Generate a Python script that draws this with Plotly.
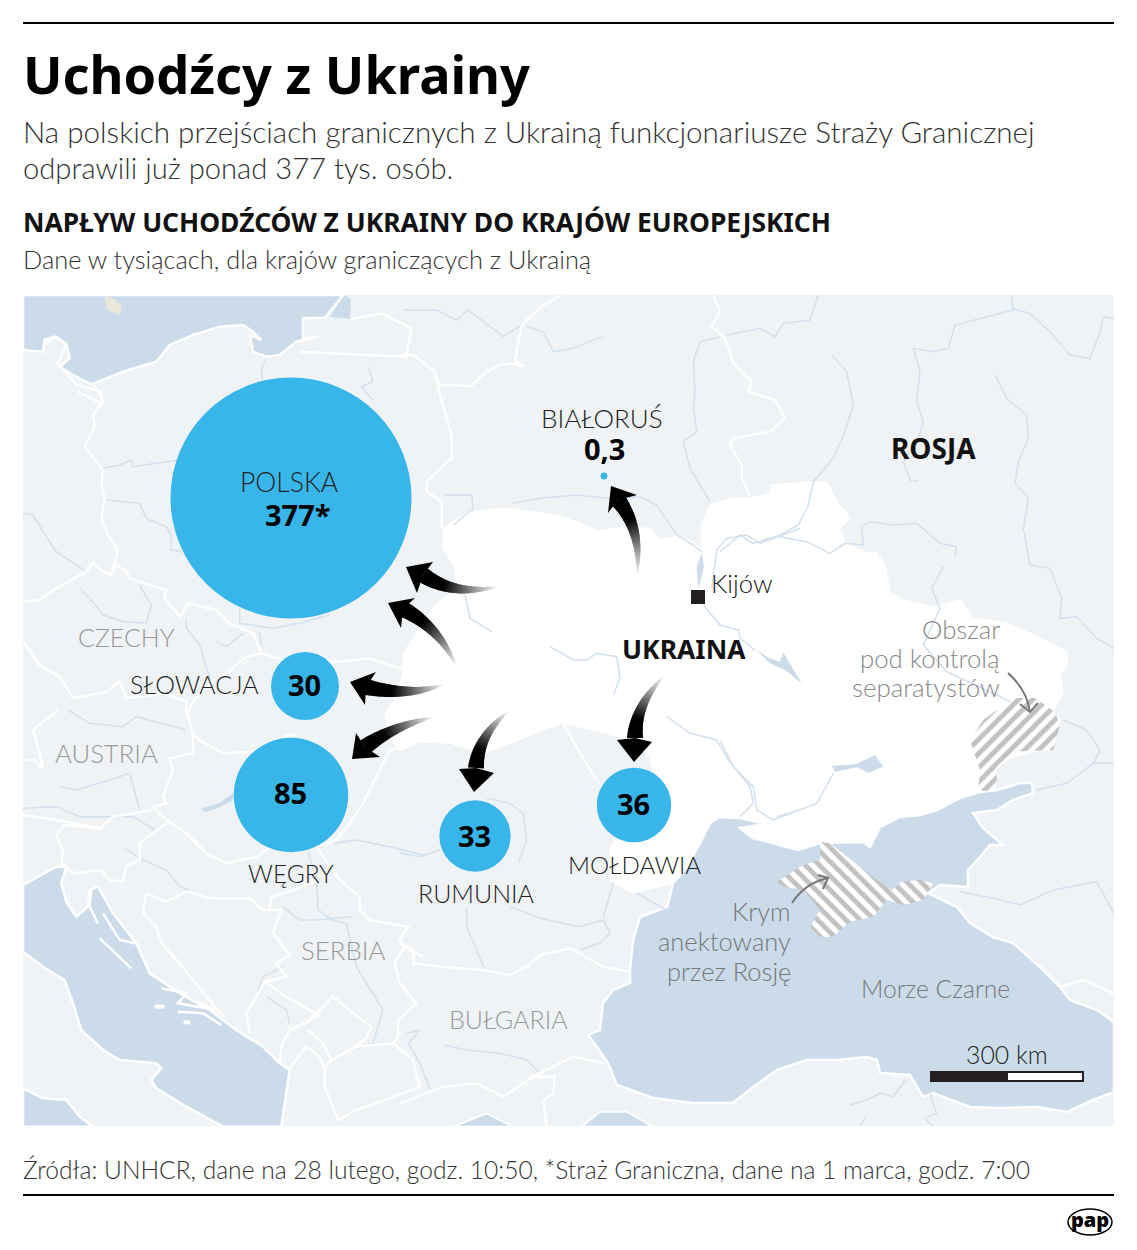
import plotly.graph_objects as go

W, H = 1137, 1250
MAP_L, MAP_T, MAP_R, MAP_B = 23, 295, 1114, 1126

LIGHT = "Lato"
BOLD = "Noto Sans"
LAND = "#eff3f5"
SEA = "#cbdbea"
RIVER = "#d3e0ed"
BLUE = "#38b6ea"

# values, in thousands
countries = ["POLSKA", "SŁOWACJA", "WĘGRY", "RUMUNIA", "MOŁDAWIA", "BIAŁORUŚ"]
refugees = [377, 30, 85, 33, 36, 0.3]
value_labels = ["377*", "30", "85", "33", "36", "0,3"]
bubble_x = [291, 305, 291, 475, 634, 604]
bubble_y = [498, 686, 795, 836, 805, 476]


def z(ox, oy, pts):
    return [(x / 3 + ox, y / 3 + oy) for x, y in pts]


baltic = z(23, 295, [(0, 165), (60, 170), (65, 135), (95, 125), (130, 145), (140, 190), (110, 215), (150, 240),
                     (205, 268), (300, 230), (400, 200), (440, 150), (510, 120), (590, 95), (660, 90), (690, 110),
                     (715, 135), (680, 120), (690, 170), (730, 185), (770, 180), (820, 140), (885, 125), (840, 130),
                     (840, 70), (905, 68), (945, 20), (960, 0), (0, 0)])
lagoon = z(23, 295, [(920, 65), (980, 72), (985, 15), (965, 0), (950, 20)])
adriatic = z(23, 710, [(0, 525), (100, 470), (130, 470), (115, 520), (130, 575), (160, 620), (195, 590), (200, 540),
                       (225, 530), (270, 610), (340, 700), (380, 790), (470, 850), (560, 900), (640, 960), (720, 1010),
                       (770, 1060), (800, 1080), (790, 1150), (775, 1250), (600, 1250), (490, 1190), (400, 1135),
                       (385, 1110), (415, 1075), (400, 1060), (290, 1050), (240, 1020), (175, 960), (150, 880),
                       (125, 810), (60, 770), (0, 725)])
tyrrhenian = z(23, 710, [(0, 1135), (60, 1165), (130, 1170), (170, 1220), (210, 1250), (0, 1250)])
marmara_a = z(400, 710, [(160, 1250), (260, 1210), (340, 1250)])
marmara_b = z(400, 710, [(545, 1250), (600, 1205), (680, 1205), (760, 1250)])
black_sea = [(720, 817), (740, 818), (757, 822), (773, 823), (740, 828), (753, 838), (780, 845), (798, 850), (820, 843),
             (863, 842), (870, 847), (880, 827), (900, 817), (920, 815), (937, 810), (960, 798), (980, 792), (997, 790),
             (1020, 783), (1032, 783), (1033, 793), (1013, 800), (997, 810), (973, 813), (983, 828), (1003, 845),
             (990, 845), (980, 857), (968, 870), (968, 887), (940, 885), (928, 893), (957, 907), (970, 923), (993, 937),
             (1013, 943), (1040, 967), (1060, 987), (1070, 1000), (1097, 1010), (1114, 1022), (1114, 1092), (1093, 1100),
             (1067, 1112), (1037, 1107), (1000, 1108), (970, 1107), (933, 1093), (923, 1097), (910, 1075), (880, 1073),
             (877, 1060), (867, 1057), (837, 1060), (807, 1060), (777, 1070), (753, 1087), (733, 1103), (693, 1103),
             (653, 1098), (617, 1085), (608, 1063), (597, 1047), (588, 1035), (600, 1030), (603, 1003), (613, 990),
             (630, 983), (630, 970), (633, 940), (640, 917), (667, 907), (673, 883), (687, 867), (700, 843), (710, 823)]
ukraine = (z(400, 295, [(130, 700), (200, 655), (300, 640), (400, 650), (480, 665), (530, 680), (590, 710), (640, 700),
                        (700, 700), (750, 700), (780, 735), (830, 725), (880, 740), (905, 765), (905, 690), (930, 630),
                        (1000, 610), (1050, 610), (1100, 600), (1120, 570)])
           + [(770, 485), (800, 483), (827, 482), (837, 502), (850, 518), (840, 528), (845, 543), (863, 552), (877, 553),
              (885, 565), (890, 592), (903, 600), (933, 607), (960, 600), (973, 618), (1007, 623), (1040, 638),
              (1067, 652), (1067, 665), (1060, 675), (1063, 692), (1053, 712), (1060, 720), (1053, 747), (1013, 757),
              (997, 767), (993, 790), (980, 792), (960, 798), (937, 810), (920, 815), (900, 817), (880, 827), (870, 847),
              (863, 842), (820, 842), (798, 850), (780, 845), (753, 838), (740, 828), (773, 823), (757, 822), (740, 818),
              (720, 817), (710, 823), (700, 843), (687, 867), (673, 883), (633, 893), (610, 880), (610, 853), (613, 842),
              (667, 820), (650, 757), (633, 743), (607, 733), (563, 723), (543, 730), (500, 747), (483, 753), (450, 743),
              (420, 742), (400, 750), (388, 735), (385, 715), (395, 700), (403, 675), (403, 655), (413, 638), (433, 608),
              (457, 588), (455, 568), (443, 548)])
crimea = z(720, 710, [(300, 395), (330, 400), (420, 470), (470, 510), (515, 540), (545, 515), (600, 510), (640, 520),
                      (610, 570), (550, 585), (500, 570), (460, 620), (390, 635), (340, 680), (300, 680), (270, 650),
                      (300, 600), (250, 540), (190, 530), (170, 515), (250, 465), (300, 450)])
donbas = [(1000, 712), (1015, 698), (1035, 698), (1055, 712)] + z(720, 710, [(1020, 45), (1000, 120), (880, 125), (830, 170),
                                                                             (830, 210), (820, 245), (775, 240), (780, 180),
                                                                             (750, 90), (790, 30), (830, 0)])
lakes = [
    z(720, 295, [(110, 1065), (145, 1088), (180, 1100), (190, 1072), (205, 1098), (245, 1165), (195, 1125), (150, 1105)]),
    z(720, 710, [(335, 168), (410, 162), (465, 135), (490, 170), (445, 188), (410, 172), (345, 185)]),
    z(400, 295, [(905, 775), (912, 815), (895, 880), (890, 815)]),
    z(23, 710, [(535, 298), (590, 280), (632, 250), (630, 268), (590, 290), (545, 305)]),
]
islet = z(23, 295, [(245, 5), (262, 5), (297, 30), (290, 60), (250, 45)])

border_lines = [
    z(23, 295, [(215, 270), (240, 320), (210, 360), (215, 395), (185, 455), (240, 525), (235, 570), (245, 610),
                (235, 670), (255, 720), (285, 765), (265, 840)]),
    z(23, 295, [(0, 920), (50, 915), (100, 880), (190, 830), (210, 805), (240, 830), (265, 840), (280, 810), (310, 830),
                (320, 850), (430, 885), (425, 910), (470, 965), (495, 925), (580, 945), (620, 985), (690, 1015),
                (715, 1075), (800, 1100), (950, 1100), (1040, 1090), (1145, 1125)]),
    z(23, 295, [(715, 1075), (660, 1090), (620, 1130), (560, 1165), (510, 1220), (490, 1260)]),
    z(23, 295, [(0, 1040), (50, 1110), (110, 1145), (150, 1210), (250, 1190), (290, 1160), (310, 1210), (420, 1195),
                (490, 1220), (490, 1260)]),
    z(23, 295, [(830, 170), (1150, 185), (1165, 100), (1075, 55), (985, 72)]),
    z(400, 295, [(0, 180), (40, 180), (105, 230), (115, 270), (165, 270), (210, 275), (260, 230), (300, 210), (335, 205),
                 (370, 215), (345, 195), (365, 90), (430, 30), (485, 0)]),
    z(400, 295, [(105, 230), (120, 300), (155, 420), (155, 490), (80, 560), (80, 590), (125, 620), (125, 700)]),
    z(400, 295, [(940, 0), (960, 50), (935, 95), (975, 130), (1000, 205), (1055, 260), (1045, 290), (1125, 315),
                 (1155, 370), (1110, 410), (1000, 430), (990, 450), (1025, 510), (1025, 550), (1050, 600)]),
    z(23, 710, [(490, 0), (510, 70), (530, 90), (600, 130), (690, 125), (790, 75), (820, 75)]),
    z(23, 710, [(1200, 90), (1100, 120), (1070, 180), (1020, 280), (980, 340), (940, 390), (880, 410), (950, 510),
                (1010, 560), (1010, 600), (1040, 630), (1100, 640), (1155, 650), (1130, 690), (1145, 710), (1200, 740)]),
    z(23, 710, [(850, 415), (760, 400), (700, 440), (610, 460), (550, 430), (490, 370), (430, 330), (390, 290), (430, 280),
                (420, 260), (450, 180), (440, 145), (510, 130), (510, 70)]),
    z(23, 710, [(0, 315), (100, 330), (230, 355), (270, 320), (390, 300)]),
    z(23, 710, [(100, 375), (125, 345), (235, 355)]),
    z(23, 710, [(100, 375), (120, 420), (115, 460), (130, 470), (150, 490), (235, 480), (260, 510), (300, 515), (310, 470),
                (350, 450), (350, 400), (430, 340)]),
    z(23, 710, [(105, 0), (30, 60), (50, 130), (60, 175), (35, 150), (0, 150)]),
    z(23, 710, [(370, 550), (360, 610), (400, 650), (415, 700), (470, 760), (550, 860), (600, 920)]),
    z(23, 710, [(370, 550), (430, 575), (490, 545), (560, 565), (680, 565), (720, 600), (775, 600), (750, 670), (800, 735),
                (760, 760), (790, 800), (725, 815), (700, 860), (670, 910), (680, 970)]),
    z(23, 710, [(740, 600), (745, 560), (800, 545), (880, 510)]),
    z(23, 710, [(725, 815), (790, 860), (885, 915), (855, 935), (800, 960), (775, 1010), (770, 1060)]),
    z(23, 710, [(855, 935), (930, 860), (990, 910), (1045, 950), (1030, 985), (980, 1020), (925, 1050), (900, 1000),
                (855, 960)]),
    z(23, 710, [(925, 1050), (1000, 1010), (1110, 1000), (1170, 1050), (1190, 1130), (1100, 1165), (1000, 1200), (945, 1230),
                (905, 1130), (905, 1075), (925, 1050)]),
    z(23, 710, [(800, 1075), (850, 1010), (890, 1040), (905, 1075)]),
    z(23, 710, [(1145, 710), (1115, 760), (1130, 820), (1180, 880), (1125, 930), (1125, 980), (1110, 1000)]),
    z(400, 710, [(0, 700), (40, 720), (40, 760), (120, 770), (250, 780), (330, 795), (380, 770), (420, 735), (510, 715),
                 (610, 770), (690, 785)]),
    z(400, 710, [(0, 1180), (130, 1130), (230, 1120), (310, 1160), (400, 1100), (520, 1040), (615, 1060)]),
    z(400, 710, [(400, 1100), (465, 1100), (460, 1150), (430, 1170), (440, 1250)]),
    z(400, 710, [(490, 40), (540, 130), (590, 210)]),
    z(720, 710, [(1020, 830), (1090, 810), (1182, 850)]),
    z(23, 710, [(205, 540), (200, 590), (225, 640)]),
    z(23, 710, [(240, 610), (290, 690), (335, 700)]),
    z(23, 710, [(230, 685), (290, 740), (325, 775)]),
    z(23, 710, [(415, 835), (490, 850), (465, 880), (580, 900), (520, 875)]),
    z(23, 710, [(465, 905), (540, 910), (595, 945)]),
    z(23, 295, [(60, 150), (100, 125), (130, 150), (105, 205), (160, 270), (235, 290), (235, 325), (165, 290)]),
]
island_spots = [z(23, 710, [(395, 890), (425, 890)]), z(23, 710, [(482, 937), (502, 937)])]

river_lines = [
    z(23, 295, [(240, 520), (290, 510), (325, 495), (330, 515), (400, 505), (470, 495)]),
    z(23, 295, [(250, 615), (350, 625), (370, 670), (430, 695), (445, 720), (445, 765), (480, 770)]),
    z(23, 295, [(0, 655), (30, 660), (60, 710), (100, 770), (190, 830)]),
    z(23, 295, [(170, 880), (200, 910), (240, 960), (300, 980), (370, 985), (385, 930), (350, 870)]),
    z(23, 295, [(490, 970), (490, 1000), (530, 1050), (560, 1150)]),
    z(23, 295, [(650, 940), (650, 985), (750, 1000), (830, 985), (920, 960)]),
    z(23, 295, [(580, 1040), (610, 1055), (660, 1015)]),
    z(23, 295, [(710, 1010), (715, 1050)]),
    z(23, 295, [(730, 190), (715, 225), (718, 255)]),
    z(23, 295, [(1035, 215), (1050, 260), (1015, 275), (1050, 315)]),
    z(400, 295, [(15, 45), (110, 45), (170, 75), (205, 45), (310, 125), (365, 90)]),
    z(400, 295, [(380, 95), (430, 110), (460, 170), (520, 160), (605, 125)]),
    z(400, 295, [(340, 625), (420, 610), (530, 600), (620, 610), (720, 605), (770, 630), (830, 720), (880, 750), (905, 770)]),
    z(400, 295, [(960, 125), (900, 140), (880, 200), (885, 290), (880, 340), (890, 410), (850, 440), (870, 520), (930, 620)]),
    z(400, 295, [(935, 880), (950, 765), (980, 730), (1040, 720), (1080, 745), (1200, 700)]),
    z(400, 295, [(910, 930), (960, 990), (1015, 1005), (1020, 1030), (1065, 1065)]),
    z(400, 295, [(195, 900), (210, 970), (275, 1010)]),
    z(400, 295, [(450, 1055), (520, 1095), (560, 1095), (590, 1075), (650, 1085), (660, 1150), (640, 1200)]),
    z(400, 295, [(135, 600), (215, 600), (220, 640), (160, 690)]),
    z(720, 295, [(20, 120), (120, 100), (165, 125), (190, 85), (270, 75), (295, 0)]),
    z(720, 295, [(335, 180), (380, 230), (400, 330), (375, 410), (340, 490), (280, 560), (265, 630), (235, 690), (180, 720),
                 (100, 745), (60, 720), (0, 770)]),
    z(720, 295, [(180, 725), (260, 740), (330, 775), (375, 745), (430, 750), (425, 695), (450, 680), (520, 690), (590, 685),
                 (660, 745), (710, 755), (705, 785)]),
    z(720, 295, [(875, 0), (880, 45), (705, 90), (685, 160), (640, 170), (580, 160), (600, 230), (590, 320), (610, 380),
                 (595, 430), (550, 500), (570, 555), (595, 558)]),
    z(720, 295, [(825, 240), (860, 310), (920, 360), (925, 430), (895, 500), (885, 565), (925, 610), (910, 700), (930, 810),
                 (990, 820), (1025, 910), (1020, 970), (1070, 965), (1130, 1030), (1182, 1060)]),
    z(720, 295, [(875, 40), (930, 55), (990, 110), (1050, 180), (1110, 190), (1140, 110), (1150, 65), (1182, 70)]),
    z(720, 295, [(670, 815), (635, 880), (660, 940), (610, 1050), (680, 1130), (830, 1200), (930, 1250)]),
    z(23, 710, [(135, 0), (200, 40), (300, 50), (340, 20), (490, 60)]),
    z(23, 710, [(110, 230), (160, 240), (260, 210), (320, 190), (350, 300)]),
    z(23, 710, [(0, 295), (100, 290), (170, 320), (330, 320), (395, 360)]),
    z(23, 710, [(305, 415), (360, 450), (430, 480), (470, 530), (500, 540)]),
    z(23, 710, [(855, 425), (880, 510), (885, 600), (930, 630), (970, 640), (1000, 770), (1080, 900), (1050, 1000), (1000, 1015)]),
    z(23, 710, [(930, 400), (1000, 390), (1100, 410), (1200, 435)]),
    z(23, 710, [(780, 590), (830, 630), (880, 630), (990, 620)]),
    z(23, 710, [(705, 840), (720, 800), (780, 770)]),
    z(23, 710, [(730, 860), (790, 900), (800, 940)]),
    z(400, 710, [(0, 430), (60, 440), (120, 420)]),
    z(400, 710, [(260, 265), (330, 280), (370, 310), (380, 390), (355, 460)]),
    z(400, 710, [(200, 590), (200, 650), (255, 780)]),
    z(400, 710, [(330, 590), (420, 625), (540, 650), (610, 630), (630, 670), (600, 700), (540, 720)]),
    z(400, 710, [(610, 620), (640, 520)]),
    z(400, 710, [(130, 1005), (200, 1020), (300, 1030), (380, 1050), (415, 1085)]),
    z(400, 710, [(20, 970), (60, 960), (25, 1000), (60, 1060), (90, 1140)]),
    z(400, 710, [(800, 20), (870, 70), (950, 90), (985, 150), (1050, 230), (1060, 280), (1020, 320)]),
    z(400, 710, [(1130, 320), (1200, 300)]),
    z(400, 710, [(710, 550), (800, 600)]),
    z(720, 710, [(0, 90), (40, 170), (100, 230), (110, 300), (160, 330), (290, 280), (340, 190)]),
    z(720, 710, [(950, 240), (1040, 220), (1120, 160), (1182, 160)]),
    z(720, 710, [(1120, 160), (1140, 120), (1100, 60), (1030, 30)]),
    z(720, 710, [(720, 545), (820, 565), (900, 585), (1000, 540), (1130, 515), (1182, 610)]),
    z(720, 710, [(390, 1185), (440, 1170), (480, 1150), (520, 1160), (555, 1110)]),
    z(720, 710, [(440, 1215), (420, 1250)]),
    z(720, 710, [(630, 1150), (650, 1210), (615, 1225), (640, 1250)]),
]

# flow arrows: tail, bend, neck, tip, two wings
flow_arrows = [
    ((500, 586), (455, 597), (423, 575), (406, 567), (433, 562), (417, 593)),
    ((457, 668), (440, 628), (403, 609), (388, 603), (415, 598), (401, 628)),
    ((445, 684), (410, 697), (366, 687), (350, 682), (376, 672), (365, 705)),
    ((435, 717), (395, 725), (365, 747), (352, 759), (356, 733), (380, 757)),
    ((510, 710), (478, 735), (476, 768), (474, 792), (459, 769), (494, 773)),
    ((665, 675), (635, 705), (635, 738), (634, 762), (617, 740), (652, 742)),
    ((637, 577), (642, 530), (618, 500), (611, 486), (637, 495), (608, 513)),
]

texts = [
    # x, y, text, size, colour, bold, anchor
    (22, 73, "Uchodźcy z Ukrainy", 52.3, "#000000", True, "left"),
    (22, 131, "Na polskich przejściach granicznych z Ukrainą funkcjonariusze Straży Granicznej", 29.6, "#333333", False, "left"),
    (22, 168, "odprawili już ponad 377 tys. osób.", 29.2, "#333333", False, "left"),
    (22, 222, "NAPŁYW UCHODŹCÓW Z UKRAINY DO KRAJÓW EUROPEJSKICH", 26.4, "#111111", True, "left"),
    (22, 259, "Dane w tysiącach, dla krajów graniczących z Ukrainą", 25.4, "#333333", False, "left"),
    (22, 1169, "Źródła: UNHCR, dane na 28 lutego, godz. 10:50, *Straż Graniczna, dane na 1 marca, godz. 7:00", 24.6, "#333333", False, "left"),
    (289, 482, "POLSKA", 26.5, "#222222", False, "center"),
    (602, 418, "BIAŁORUŚ", 26, "#222222", False, "center"),
    (260, 684, "SŁOWACJA", 25, "#222222", False, "right"),
    (291, 873, "WĘGRY", 24.5, "#222222", False, "center"),
    (476, 893, "RUMUNIA", 25, "#222222", False, "center"),
    (634, 864, "MOŁDAWIA", 24.2, "#222222", False, "center"),
    (126, 637, "CZECHY", 25, "#999999", False, "center"),
    (106, 753, "AUSTRIA", 25.7, "#999999", False, "center"),
    (343, 950, "SERBIA", 25.8, "#999999", False, "center"),
    (508, 1019, "BUŁGARIA", 25, "#999999", False, "center"),
    (933, 448, "ROSJA", 28, "#111111", True, "center"),
    (684, 649, "UKRAINA", 26.5, "#111111", True, "center"),
    (710, 583, "Kijów", 25.7, "#222222", False, "left"),
    (1001, 629, "Obszar", 25.8, "#888888", False, "right"),
    (1001, 658, "pod kontrolą", 25.8, "#888888", False, "right"),
    (1001, 687, "separatystów", 25.8, "#888888", False, "right"),
    (792, 911, "Krym", 25.5, "#777777", False, "right"),
    (792, 941, "anektowany", 25.5, "#777777", False, "right"),
    (792, 971, "przez Rosję", 25.5, "#777777", False, "right"),
    (935, 988, "Morze Czarne", 24.6, "#777777", False, "center"),
    (1007, 1054, "300 km", 24.8, "#222222", False, "center"),
]
value_text_y = [514, 684, 792, 835, 803, 449]
value_text_x = [297, 304, 290, 474, 633, 604]


def poly(pts, close=True):
    d = "M" + " L".join(f"{x:.1f},{y:.1f}" for x, y in pts)
    return d + (" Z" if close else "")


def filled(pts, color, line="#ffffff", width=0):
    return dict(type="path", path=poly(pts), fillcolor=color, layer="below",
                line=dict(color=line, width=width), xref="x", yref="y")


def joined(lines):
    xs, ys = [], []
    for ln in lines:
        xs += [p[0] for p in ln] + [None]
        ys += [p[1] for p in ln] + [None]
    return xs, ys


def bezier(p0, p1, p2, t):
    a, b, c = (1 - t) ** 2, 2 * t * (1 - t), t ** 2
    return a * p0[0] + b * p1[0] + c * p2[0], a * p0[1] + b * p1[1] + c * p2[1]


def arrow_shapes(tail, bend, neck, tip, wing_a, wing_b, steps=36):
    out = []
    for i in range(steps):
        t0, t1 = i / steps, min(1, (i + 1.6) / steps)
        x0, y0 = bezier(tail, bend, neck, t0)
        x1, y1 = bezier(tail, bend, neck, t1)
        dx, dy = x1 - x0, y1 - y0
        n = (dx * dx + dy * dy) ** 0.5 or 1
        nx, ny = -dy / n, dx / n
        w0, w1 = 8 * t0 ** 0.8, 8 * t1 ** 0.8
        grey = int(255 * max(0, 1 - t0 * 1.45))
        quad = [(x0 + nx * w0, y0 + ny * w0), (x1 + nx * w1, y1 + ny * w1),
                (x1 - nx * w1, y1 - ny * w1), (x0 - nx * w0, y0 - ny * w0)]
        out.append(dict(type="path", path=poly(quad), fillcolor=f"rgb({grey},{grey},{grey})",
                        line=dict(width=0), layer="above", xref="x", yref="y"))
    out.append(dict(type="path", path=poly([tip, wing_a, neck, wing_b]), fillcolor="#000000",
                    line=dict(width=0), layer="above", xref="x", yref="y"))
    return out


fig = go.Figure()

shapes = [filled(baltic, SEA, width=2.5), filled(lagoon, SEA), filled(adriatic, SEA, width=2.5),
          filled(tyrrhenian, SEA, width=2.5), filled(marmara_a, SEA, width=2), filled(marmara_b, SEA, width=2),
          filled(black_sea, SEA, width=2.5), filled(islet, "#e9e7da"), filled(ukraine, "#ffffff", width=1.5)]
for lake in lakes[:3]:
    shapes.append(filled(lake, SEA))

# rivers and borders
rx, ry = joined(river_lines)
fig.add_trace(go.Scatter(x=rx, y=ry, mode="lines", line=dict(color=RIVER, width=1.5), hoverinfo="skip"))
fig.add_trace(go.Scatter(x=[p[0] for p in lakes[3]], y=[p[1] for p in lakes[3]], mode="lines", fill="toself",
                         fillcolor=SEA, line=dict(color=SEA, width=1), hoverinfo="skip"))
bx, by = joined(border_lines)
fig.add_trace(go.Scatter(x=bx, y=by, mode="lines", line=dict(color="#ffffff", width=2.5), hoverinfo="skip"))
sx, sy = joined(island_spots)
fig.add_trace(go.Scatter(x=sx, y=sy, mode="lines", line=dict(color="#ffffff", width=4), hoverinfo="skip"))

# hatched areas
for area, pattern in [(crimea, "\\"), (donbas, "/")]:
    fig.add_trace(go.Scatter(x=[p[0] for p in area] + [area[0][0]], y=[p[1] for p in area] + [area[0][1]],
                             mode="lines", fill="toself", line=dict(width=0), hoverinfo="skip",
                             fillpattern=dict(shape=pattern, fgcolor="#868686", bgcolor="#ffffff",
                                              size=10, solidity=0.5)))

# refugee bubbles, scaled by area
fig.add_trace(go.Scatter(x=bubble_x, y=bubble_y, mode="markers", hovertext=countries, hoverinfo="text",
                         marker=dict(size=refugees, sizemode="area", sizeref=0.01298, sizemin=3, opacity=1,
                                     color=BLUE, line=dict(width=0))))
# Kijów
fig.add_trace(go.Scatter(x=[698], y=[597], mode="markers", hoverinfo="skip",
                         marker=dict(symbol="square", size=14, color="#231f20")))

for spec in flow_arrows:
    shapes += arrow_shapes(*spec)

# callout arrows
for d in ["M1008,673 Q1027,690 1030,712", "M1020,704 L1030,712 L1038,703",
          "M792,903 Q805,883 828,878", "M818,875 L828,878 L823,889"]:
    shapes.append(dict(type="path", path=d, line=dict(color="#777777", width=2), layer="above", xref="x", yref="y"))

# scale bar
shapes.append(dict(type="rect", x0=931, x1=1083, y0=1072, y1=1081, fillcolor="#ffffff",
                   line=dict(color="#231f20", width=2), layer="above", xref="x", yref="y"))
shapes.append(dict(type="rect", x0=931, x1=1007, y0=1072, y1=1081, fillcolor="#231f20",
                   line=dict(color="#231f20", width=2), layer="above", xref="x", yref="y"))

# header and footer rules, pap logo
for y in [23, 1195]:
    shapes.append(dict(type="line", xref="paper", yref="paper", x0=23 / W, x1=1114 / W, y0=1 - y / H, y1=1 - y / H,
                       line=dict(color="#000000", width=2)))
shapes.append(dict(type="circle", xref="paper", yref="paper", x0=1068 / W, x1=1112 / W, y0=1 - 1235 / H, y1=1 - 1209 / H,
                   fillcolor="#ffffff", line=dict(color="#000000", width=1.5)))

annotations = []


def add_text(x, y, text, size, color, bold=False, anchor="center", weight=None):
    annotations.append(dict(x=x / W, y=1 - y / H, xref="paper", yref="paper", text=text, showarrow=False,
                            xanchor=anchor, yanchor="middle", borderpad=0,
                            font=dict(family=BOLD if bold else LIGHT, size=size, color=color,
                                      weight=weight or (700 if bold else 300))))


for t in texts:
    add_text(*t)
for vx, vy, lab in zip(value_text_x, value_text_y, value_labels):
    add_text(vx, vy, lab, 29, "#000000", True)
add_text(1090, 1219, "pap", 20, "#000000", True, weight=900)

fig.update_layout(
    width=W, height=H, margin=dict(l=0, r=0, t=0, b=0),
    paper_bgcolor="#ffffff", plot_bgcolor=LAND, showlegend=False,
    xaxis=dict(domain=[MAP_L / W, MAP_R / W], range=[MAP_L, MAP_R], visible=False, fixedrange=True),
    yaxis=dict(domain=[1 - MAP_B / H, 1 - MAP_T / H], range=[MAP_B, MAP_T], visible=False, fixedrange=True),
    shapes=shapes, annotations=annotations,
)

fig.write_html("out.html", config=dict(displayModeBar=False),
               post_script="document.body.style.margin='0';document.body.style.overflow='hidden';")
